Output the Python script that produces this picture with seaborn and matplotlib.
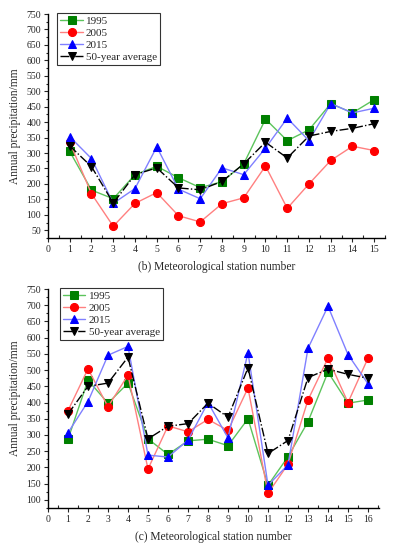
import matplotlib
matplotlib.use("Agg")
import matplotlib.pyplot as plt
import seaborn as sns
import numpy as np
from matplotlib.ticker import MultipleLocator

sns.set_style("ticks")
plt.rcParams['font.family'] = ['Liberation Serif', 'DejaVu Serif']

# Panel (b)
stations_b = list(range(1, 16))
b_1995 = [305, 180, 152, 230, 257, 220, 188, 207, 265, 410, 340, 375, 460, 430, 473]
b_2005 = [335, 168, 63, 137, 172, 97, 77, 136, 155, 258, 121, 200, 276, 322, 308]
b_2015 = [353, 282, 137, 185, 320, 183, 152, 252, 230, 316, 413, 340, 460, 430, 445]
b_avg = [323, 256, 138, 230, 252, 187, 181, 208, 265, 335, 284, 355, 370, 380, 395]

# Panel (c)
stations_c = list(range(1, 17))
c_1995 = [287, 469, 398, 460, 288, 240, 282, 287, 267, 350, 145, 233, 341, 494, 398, 408]
c_2005 = [375, 504, 387, 485, 195, 328, 310, 348, 314, 445, 120, 210, 408, 537, 400, 537]
c_2015 = [307, 403, 546, 573, 238, 232, 284, 400, 291, 554, 145, 208, 567, 697, 548, 458]
c_avg = [365, 450, 460, 540, 288, 327, 335, 398, 355, 507, 243, 283, 477, 503, 487, 475]

labels = ["1995", "2005", "2015", "50-year average"]
line_colors = ["#5cc45c", "#ff8080", "#8080ff", "#000000"]
marker_colors = ["#008000", "#ff0000", "#0000ff", "#000000"]
markers = ["s", "o", "^", "v"]
linestyles = ["-", "-", "-", "-."]

fig = plt.figure(figsize=(3.95, 5.5), dpi=100)
ax1 = fig.add_axes([0.1215, 0.5673, 0.8535, 0.4072])
ax2 = fig.add_axes([0.1215, 0.0764, 0.838, 0.3981])


def draw(ax, x, series, xmax, ymin, xlabel, legx):
    for vals, lab, lc, mc, mk, ls in zip(series, labels, line_colors, marker_colors, markers, linestyles):
        sns.lineplot(x=x, y=vals, ax=ax, color=lc, linestyle=ls, linewidth=1.0,
                     marker=mk, markersize=5.8, markerfacecolor=mc, markeredgecolor=mc,
                     label=lab)
    ax.set_xlim(0, xmax)
    ax.set_ylim(ymin, 750)
    ax.xaxis.set_major_locator(MultipleLocator(1))
    ax.xaxis.set_minor_locator(MultipleLocator(0.5))
    ax.yaxis.set_major_locator(MultipleLocator(50))
    ax.yaxis.set_minor_locator(MultipleLocator(25))
    yt = [v for v in range(50, 751, 50) if v >= ymin]
    ax.set_yticks(yt)
    ax.tick_params(axis='both', which='major', labelsize=7, direction='out', length=3, width=0.8, pad=2)
    ax.tick_params(axis='x', which='minor', direction='in', length=2, width=0.8)
    ax.tick_params(axis='y', which='minor', direction='out', length=1.8, width=0.8)
    for s in ['top', 'right']:
        ax.spines[s].set_visible(False)
    for s in ['left', 'bottom']:
        ax.spines[s].set_linewidth(1.0)
        ax.spines[s].set_color('black')
    ax.set_xlabel(xlabel, fontsize=8.3, labelpad=5)
    ax.set_ylabel("Annual precipitation/mm", fontsize=8.3, labelpad=4)
    leg = ax.legend(loc='upper left', bbox_to_anchor=(legx, 1.005), fontsize=8, frameon=True,
                    fancybox=False, edgecolor='black', handlelength=2.0, borderpad=0.3,
                    labelspacing=0.2, handletextpad=0.3, borderaxespad=0.0)
    leg.get_frame().set_linewidth(0.8)


draw(ax1, stations_b, [b_1995, b_2005, b_2015, b_avg], 15.5, 25, "(b) Meteorological station number", 0.027)
draw(ax2, stations_c, [c_1995, c_2005, c_2015, c_avg], 16.55, 75, "(c) Meteorological station number", 0.036)

fig.savefig("out.png", dpi=100)
